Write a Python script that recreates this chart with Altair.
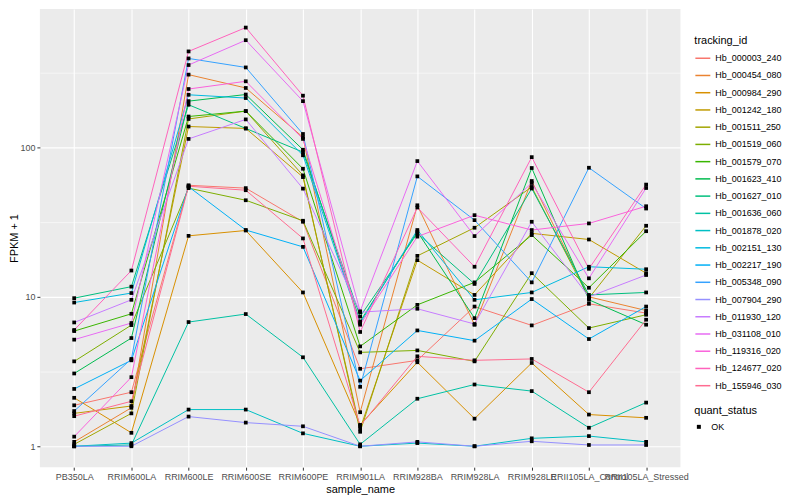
import altair as alt
import pandas as pd

samples = ["PB350LA", "RRIM600LA", "RRIM600LE", "RRIM600SE", "RRIM600PE",
           "RRIM901LA", "RRIM928BA", "RRIM928LA", "RRIM928LE",
           "RRII105LA_Control", "RRII105LA_Stressed"]

tracking_ids = ["Hb_000003_240", "Hb_000454_080", "Hb_000984_290", "Hb_001242_180",
                "Hb_001511_250", "Hb_001519_060", "Hb_001579_070", "Hb_001623_410",
                "Hb_001627_010", "Hb_001636_060", "Hb_001878_020", "Hb_002151_130",
                "Hb_002217_190", "Hb_005348_090", "Hb_007904_290", "Hb_011930_120",
                "Hb_031108_010", "Hb_119316_020", "Hb_124677_020", "Hb_155946_030"]

colors = ["#F8766D", "#EA8331", "#D89000", "#C09B00", "#A3A500", "#7CAE00",
          "#39B600", "#00BB4E", "#00BF7D", "#00C1A3", "#00BFC4", "#00BAE0",
          "#00B0F6", "#35A2FF", "#9590FF", "#C77CFF", "#E76BF3", "#FA62DB",
          "#FF62BC", "#FF6C91"]

# FPKM + 1 per sample (order of `samples`)
hb_000003_240 = [1.88, 2.3, 55.8, 53.4, 31.8, 3.3, 3.76, 8.61, 6.44, 8.98, 7.79]
hb_000454_080 = [1.07, 1.81, 307, 250, 117, 1.69, 41, 6.5, 59.6, 10.0, 8.1]
hb_000984_290 = [2.11, 1.23, 25.6, 27.8, 10.7, 1.39, 3.65, 1.53, 3.61, 1.63, 1.55]
hb_001242_180 = [1.66, 1.86, 138, 134, 63.3, 1.31, 17.6, 10.3, 26.6, 24.2, 14.4]
hb_001511_250 = [1.03, 1.66, 155, 175, 65, 1.25, 18.8, 29, 54.4, 9.8, 29.9]
hb_001519_060 = [3.7, 6.47, 53.4, 44.3, 32.3, 4.25, 4.38, 3.7, 14.4, 6.18, 7.59]
hb_001579_070 = [5.9, 7.7, 161, 175, 72, 4.66, 8.84, 12.5, 25.9, 11.5, 27.5]
hb_001623_410 = [3.07, 5.3, 204, 226, 96.5, 6.84, 27.3, 7.2, 72.8, 9.55, 6.51]
hb_001627_010 = [9.8, 11.7, 193, 134, 93, 7.39, 26.6, 12.2, 53.1, 10.3, 10.7]
hb_001636_060 = [1.0, 1.02, 6.78, 7.67, 3.94, 1.03, 2.08, 2.59, 2.34, 1.33, 1.96]
hb_001878_020 = [1.0, 1.05, 1.76, 1.76, 1.22, 1.0, 1.05, 1.0, 1.13, 1.17, 1.07]
hb_002151_130 = [9.16, 10.6, 225, 214, 88.6, 6.67, 28, 9.55, 10.7, 15.9, 15.3]
hb_002217_190 = [2.42, 3.76, 54.6, 28, 21.6, 2.75, 5.96, 5.09, 9.66, 5.22, 8.61]
hb_005348_090 = [1.72, 3.84, 394, 343, 123, 2.5, 64, 32.6, 12.5, 73.1, 39]
hb_007904_290 = [1.0, 1.0, 1.58, 1.44, 1.36, 1.0, 1.07, 1.0, 1.08, 1.02, 1.02]
hb_011930_120 = [6.74, 9.55, 114, 154, 53, 7.9, 8.32, 6.58, 31.8, 10.0, 14.0]
hb_031108_010 = [5.17, 6.68, 356, 522, 204, 8.0, 81, 25.5, 57.8, 13.3, 53.5]
hb_119316_020 = [1.16, 2.9, 246, 277, 114, 6.51, 25.3, 35.2, 28, 31, 40.4]
hb_124677_020 = [6.0, 15.0, 439, 634, 222, 5.82, 39.6, 15.9, 86.1, 15.4, 56.4]
hb_155946_030 = [1.59, 2.0, 55.0, 51.7, 24.6, 1.37, 4.0, 3.76, 3.84, 2.3, 7.03]

series = [hb_000003_240, hb_000454_080, hb_000984_290, hb_001242_180, hb_001511_250,
          hb_001519_060, hb_001579_070, hb_001623_410, hb_001627_010, hb_001636_060,
          hb_001878_020, hb_002151_130, hb_002217_190, hb_005348_090, hb_007904_290,
          hb_011930_120, hb_031108_010, hb_119316_020, hb_124677_020, hb_155946_030]

rows = []
for tid, vals in zip(tracking_ids, series):
    for i, (s, v) in enumerate(zip(samples, vals)):
        rows.append({"tracking_id": tid, "sample_name": s, "idx": i,
                     "fpkm": v, "quant_status": "OK"})
df = pd.DataFrame(rows)

FONT = "Liberation Sans"
major_test = "datum.value == 1 || datum.value == 10 || datum.value == 100"

x_enc = alt.X("sample_name:N", sort=samples, title="sample_name",
              scale=alt.Scale(type="point", padding=0.6),
              axis=alt.Axis(labelAngle=0, labelOverlap=False, labelBound=False,
                            labelFontSize=9, labelColor="#4D4D4D", labelFont=FONT,
                            titleFontSize=11, titleColor="#000000", titleFont=FONT,
                            titleFontWeight="normal", titlePadding=2,
                            tickColor="#333333", tickSize=3, labelPadding=2,
                            domain=False, grid=True, gridColor="#FFFFFF",
                            gridWidth=1.1))

y_enc = alt.Y("fpkm:Q", title="FPKM + 1",
              scale=alt.Scale(type="log", domain=[0.72444, 844.9], nice=False),
              axis=alt.Axis(values=[1, 3.16228, 10, 31.6228, 100, 316.228],
                            labelExpr="datum.value == 1 ? '1' : datum.value == 10 ? '10' : datum.value == 100 ? '100' : ''",
                            labelFontSize=9, labelColor="#4D4D4D", labelFont=FONT,
                            titleFontSize=11, titleColor="#000000", titleFont=FONT,
                            titleFontWeight="normal", titlePadding=0,
                            tickColor="#333333", tickSize=3, labelPadding=2,
                            tickOpacity={"condition": {"test": major_test, "value": 1}, "value": 0},
                            domain=False, grid=True, gridColor="#FFFFFF",
                            gridWidth={"condition": {"test": major_test, "value": 1.1}, "value": 0.55}))

lines = alt.Chart(df).mark_line(strokeWidth=1.0).encode(
    x=x_enc,
    y=y_enc,
    color=alt.Color("tracking_id:N",
                    scale=alt.Scale(domain=tracking_ids, range=colors),
                    legend=alt.Legend(title="tracking_id", orient="none",
                                      legendX=657, legendY=26, symbolType="stroke",
                                      symbolSize=225, symbolStrokeWidth=1.5,
                                      rowPadding=3.3, titlePadding=4,
                                      labelFontSize=9, labelFont=FONT, labelColor="#000000",
                                      titleFontSize=11, titleFont=FONT,
                                      titleFontWeight="normal", labelOffset=4,
                                      labelLimit=200)),
    detail="tracking_id:N",
    order=alt.Order("idx:Q"),
)

points = alt.Chart(df).mark_point(filled=True, size=14, opacity=1).encode(
    x=x_enc,
    y=y_enc,
    color=alt.value("#000000"),
    shape=alt.Shape("quant_status:N",
                    scale=alt.Scale(domain=["OK"], range=["square"]),
                    legend=alt.Legend(title="quant_status", orient="none",
                                      legendX=657, legendY=398, symbolSize=16,
                                      symbolFillColor="#000000", symbolStrokeColor="#000000",
                                      titlePadding=6, labelFontSize=9, labelFont=FONT,
                                      labelColor="#000000", titleFontSize=11,
                                      titleFont=FONT, titleFontWeight="normal",
                                      labelOffset=8)),
)

chart = alt.layer(lines, points).properties(
    width=643, height=460,
    autosize="none",
    padding={"left": 32, "top": 0, "right": 112, "bottom": 30},
    background="#FFFFFF",
).configure_view(fill="#EBEBEB", stroke=None)

chart.save("out.html", embed_options={"renderer": "svg", "actions": False})
